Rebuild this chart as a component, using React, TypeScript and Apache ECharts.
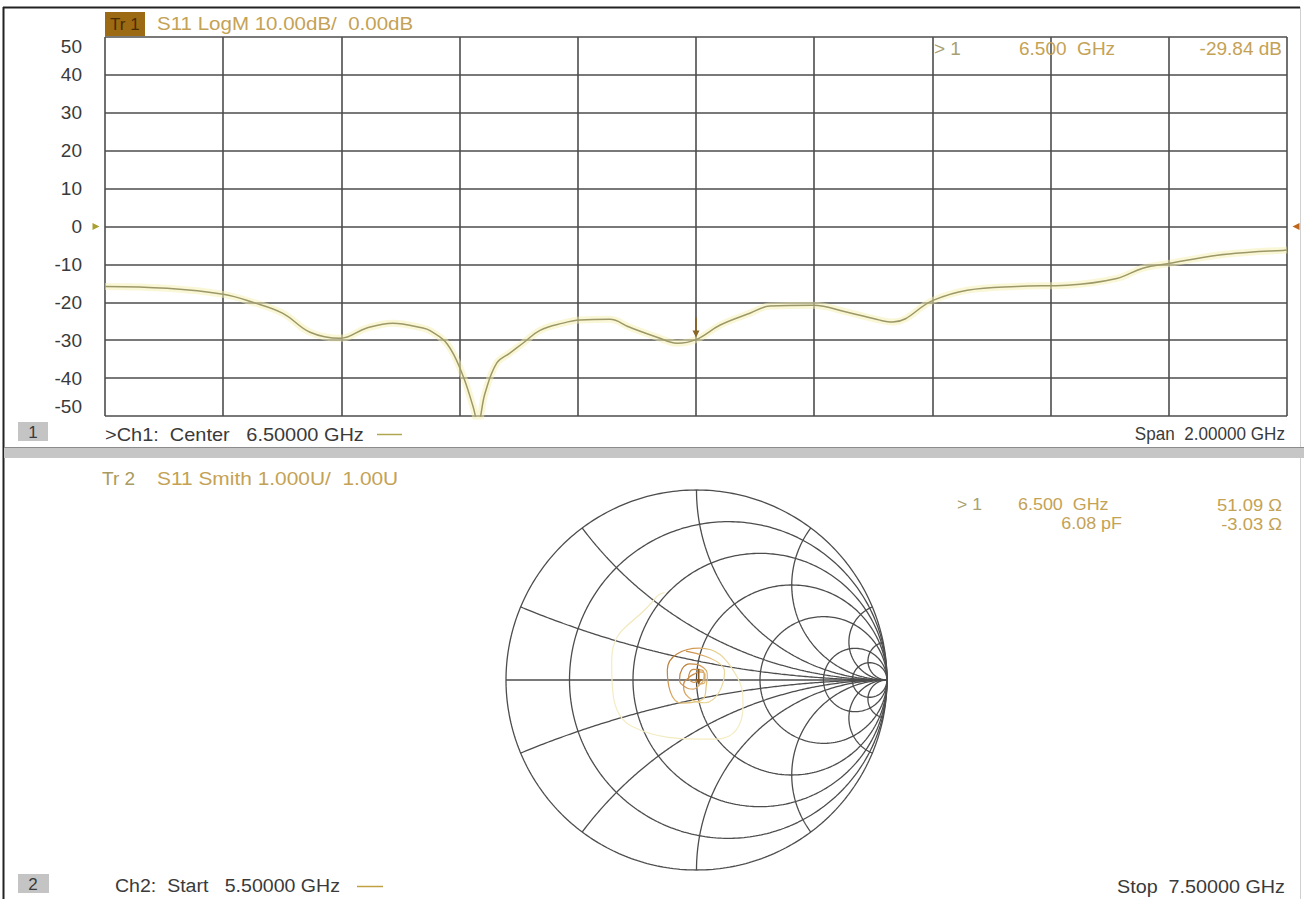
import React, { useEffect, useRef } from "react";
import * as echarts from "echarts";

// ---- Data ----
const FREQ_GHZ = [5.5, 5.605, 5.7, 5.75, 5.801, 5.847, 5.898, 5.943, 5.987, 6.038, 6.05, 6.079, 6.104, 6.123, 6.131, 6.143, 6.163, 6.185, 6.207, 6.236, 6.275, 6.304, 6.354, 6.388, 6.434, 6.468, 6.5, 6.541, 6.591, 6.625, 6.698, 6.756, 6.811, 6.833, 6.901, 6.959, 7.043, 7.128, 7.212, 7.256, 7.302, 7.382, 7.437, 7.493, 7.5];
const S11_DB = [-15.8, -16.3, -17.9, -20.0, -22.9, -27.9, -29.5, -26.8, -25.5, -26.8, -27.5, -31, -38.7, -47.6, -52, -44, -36, -33.4, -30.8, -27.4, -25.5, -24.7, -24.5, -26.6, -29.2, -30.8, -29.84, -26, -22.9, -21, -20.8, -22.6, -24.7, -25.2, -19.5, -16.8, -15.8, -15.5, -13.7, -11, -9.7, -7.6, -6.8, -6.3, -6.2];
// estimated reflection phase (degrees) for the Smith trace
const S11_PHASE = [110, 16, -70, -115, -161, 158, 112, 71, 32, -14, -25, -51, -74, -91, -98, -109, -127, -147, -166, 168, 133, 106, 61, 31, -11, -41, -70, -107, -152, 178, 112, 60, 10, -10, -71, -123, 161, 85, 9, -30, -72, -144, 167, 116, 110];

const Y_TICKS_DB = [-50, -40, -30, -20, -10, 0, 10, 20, 30, 40, 50];
const MARKER_FREQ = 6.5;
const MARKER_DB = -29.84;
const MARKER_Z_OHM = [51.09, -3.03];
const Z0 = 50;

const SMITH_R = [0, 0.2, 0.5, 1, 2, 5, 10];
const SMITH_X = [0.2, 0.5, 1, 2, 5, 10];

const FONT = "'Liberation Sans', Arial, sans-serif";
const GOLD = "#c4a255";
const DARK = "#3a3a3a";
const GRID = "#4d4d4d";
const FS = 19;

function gamma(r: number, x: number): [number, number] {
  const den = (r + 1) * (r + 1) + x * x;
  return [(r * r - 1 + x * x) / den, (2 * x) / den];
}

function rCircle(r: number): number[][] {
  const pts: number[][] = [[1, 0]];
  const n = 360;
  for (let i = 1; i < n; i++) {
    const phi = -Math.PI / 2 + (Math.PI * i) / n;
    pts.push(gamma(r, Math.tan(phi)));
  }
  pts.push([1, 0]);
  return pts;
}

function xArc(x: number): number[][] {
  const pts: number[][] = [];
  const n = 200;
  for (let i = 0; i < n; i++) {
    const phi = (Math.PI / 2) * (i / n);
    pts.push(gamma(Math.tan(phi), x));
  }
  pts.push([1, 0]);
  return pts;
}

export default function App() {
  const ref = useRef<HTMLDivElement>(null);
  useEffect(() => {
    if (!ref.current) return;
    const chart = echarts.init(ref.current, undefined, { renderer: "svg" });

    const logmData = FREQ_GHZ.map((f, i) => [f, S11_DB[i]]);
    const smithData = S11_DB.map((db, i) => {
      const m = Math.pow(10, db / 20);
      const a = (S11_PHASE[i] * Math.PI) / 180;
      return [m * Math.cos(a), m * Math.sin(a)];
    });
    const zm = [MARKER_Z_OHM[0] / Z0, MARKER_Z_OHM[1] / Z0];
    const markerGamma = gamma(zm[0], zm[1]);

    const gridSeries: any[] = [];
    SMITH_R.forEach((r) => {
      gridSeries.push({
        type: "line", xAxisIndex: 2, yAxisIndex: 1, data: rCircle(r),
        showSymbol: false, silent: true, clip: false,
        lineStyle: { color: GRID, width: 1.3 },
      });
    });
    SMITH_X.forEach((x) => {
      [x, -x].forEach((xx) => {
        gridSeries.push({
          type: "line", xAxisIndex: 2, yAxisIndex: 1, data: xArc(xx),
          showSymbol: false, silent: true, clip: false,
          lineStyle: { color: GRID, width: 1.3 },
        });
      });
    });
    gridSeries.push({
      type: "line", xAxisIndex: 2, yAxisIndex: 1, data: [[-1, 0], [1, 0]],
      showSymbol: false, silent: true, clip: false,
      lineStyle: { color: GRID, width: 1.3 },
    });

    const txt = (x: number, y: number, text: string, fill: string, align = "left", sx = 1, size = FS) => ({
      type: "text", x, y, scaleX: sx, silent: true, z: 100,
      style: { text, fill, font: `${size}px ${FONT}`, textAlign: align, textVerticalAlign: "middle" },
    });

    const option: any = {
      animation: false,
      backgroundColor: "#ffffff",
      grid: [
        { left: 105, top: 37, width: 1182, height: 379 },
        { left: 506, top: 490, width: 381, height: 380 },
      ],
      xAxis: [
        { gridIndex: 0, type: "value", min: 5.5, max: 7.5, show: false },
        {
          gridIndex: 0, type: "value", min: 0, max: 10, interval: 1,
          axisLine: { show: false }, axisTick: { show: false }, axisLabel: { show: false },
          splitLine: { show: true, lineStyle: { color: GRID, width: 1.6 } },
        },
        { gridIndex: 1, type: "value", min: -1, max: 1, show: false },
      ],
      yAxis: [
        {
          gridIndex: 0, type: "value", min: Y_TICKS_DB[0], max: Y_TICKS_DB[Y_TICKS_DB.length - 1], interval: 10,
          axisLine: { show: false }, axisTick: { show: false },
          axisLabel: {
            color: DARK, fontSize: FS, fontFamily: FONT, margin: 23,
            verticalAlignMaxLabel: "top", verticalAlignMinLabel: "bottom",
          },
          splitLine: { show: true, lineStyle: { color: GRID, width: 1.6 } },
        },
        { gridIndex: 1, type: "value", min: -1, max: 1, show: false },
      ],
      series: [
        {
          type: "line", xAxisIndex: 0, yAxisIndex: 0, data: logmData, smooth: 0.4,
          showSymbol: false, silent: true,
          lineStyle: { color: "rgba(246,240,175,0.5)", width: 7 },
        },
        {
          type: "line", xAxisIndex: 0, yAxisIndex: 0, data: logmData, smooth: 0.4,
          showSymbol: false, silent: true,
          lineStyle: { color: "#9d9868", width: 1.5 },
          markPoint: {
            silent: true,
            label: { show: false },
            data: [
              { coord: [MARKER_FREQ, MARKER_DB], symbol: "path://M3,0 L5,0 L5,11 L8,11 L4,17 L0,11 L3,11 Z", symbolSize: [7, 20], symbolOffset: [0, -12], itemStyle: { color: "#8a6525" } },
              { coord: [5.5, 0], symbol: "triangle", symbolRotate: -90, symbolSize: [7, 7], symbolOffset: [-9, 0], itemStyle: { color: "#a8a030" } },
              { coord: [7.5, 0], symbol: "triangle", symbolRotate: 90, symbolSize: [7, 7], symbolOffset: [9, 0], itemStyle: { color: "#c0661a" } },
            ],
          },
        },
        ...gridSeries,
        {
          type: "line", xAxisIndex: 2, yAxisIndex: 1, data: smithData, smooth: 0.5,
          showSymbol: false, silent: true, clip: false,
          lineStyle: {
            width: 1.2,
            color: {
              type: "radial", x: 0.5, y: 0.5, r: 0.5,
              colorStops: [
                { offset: 0, color: "#b0702a" },
                { offset: 0.35, color: "#d39a55" },
                { offset: 0.6, color: "#e6cf8a" },
                { offset: 1, color: "#f3ecc2" },
              ],
            },
          },
          markPoint: {
            silent: true, label: { show: false },
            data: [
              { coord: markerGamma, symbol: "path://M3,0 L5,0 L5,11 L8,11 L4,17 L0,11 L3,11 Z", symbolSize: [6, 16], symbolOffset: [0, -9], itemStyle: { color: "#8a5a20" } },
            ],
          },
        },
      ],
      graphic: [
        // outer frame
        { type: "line", silent: true, shape: { x1: 3.5, y1: 7, x2: 3.5, y2: 899 }, style: { stroke: "#222", lineWidth: 2 } },
        { type: "line", silent: true, shape: { x1: 3, y1: 7.5, x2: 1300, y2: 7.5 }, style: { stroke: "#222", lineWidth: 2 } },
        { type: "line", silent: true, shape: { x1: 1300.5, y1: 7, x2: 1300.5, y2: 899 }, style: { stroke: "#d0d0d0", lineWidth: 1 } },
        // separator
        { type: "rect", silent: true, shape: { x: 4, y: 447, width: 1300, height: 11 }, style: { fill: "#c6c6c6" } },
        { type: "line", silent: true, shape: { x1: 4, y1: 447.5, x2: 1304, y2: 447.5 }, style: { stroke: "#8c8c8c", lineWidth: 1 } },
        // Tr 1 header
        { type: "rect", silent: true, shape: { x: 105, y: 12, width: 40, height: 24 }, style: { fill: "#9c6a12" } },
        txt(110, 24, "Tr 1", "#4a2c00", "left", 1, 17),
        txt(157, 23, "S11 LogM 10.00dB/  0.00dB", GOLD, "left", 1.08),
        // marker readout top
        txt(934, 48, "> 1", "#a8a070"),
        txt(1019, 48, "6.500  GHz", GOLD),
        txt(1282, 48, "-29.84 dB", GOLD, "right"),
        // channel 1 footer
        { type: "rect", silent: true, shape: { x: 18, y: 422, width: 30, height: 19 }, style: { fill: "#c4c4c4" } },
        txt(33, 432, "1", DARK, "center", 1, 17),
        txt(105, 434, ">Ch1:  Center   6.50000 GHz", DARK, "left", 1.05),
        { type: "line", silent: true, shape: { x1: 377, y1: 434.5, x2: 402, y2: 434.5 }, style: { stroke: "#b0a850", lineWidth: 1.5 } },
        txt(1285, 434, "Span  2.00000 GHz", DARK, "right", 0.95, 18),
        // Tr 2 header
        txt(102, 478, "Tr 2", "#a89a60"),
        txt(157, 478, "S11 Smith 1.000U/  1.00U", GOLD, "left", 1.1),
        // marker readout bottom
        txt(957, 505, "> 1", "#a8a070", "left", 1.1, 16),
        txt(1018, 505, "6.500  GHz", GOLD, "left", 1.12, 16),
        txt(1282, 505, "51.09 \u03a9", GOLD, "right", 1.15, 16),
        txt(1122, 524, "6.08 pF", GOLD, "right", 1.12, 16),
        txt(1282, 524, "-3.03 \u03a9", GOLD, "right", 1.15, 16),
        // channel 2 footer
        { type: "rect", silent: true, shape: { x: 18, y: 874, width: 31, height: 19 }, style: { fill: "#c4c4c4" } },
        txt(33, 884, "2", DARK, "center", 1, 17),
        txt(115, 886, "Ch2:  Start   5.50000 GHz", DARK, "left", 1.03),
        { type: "line", silent: true, shape: { x1: 357, y1: 886.5, x2: 383, y2: 886.5 }, style: { stroke: "#c0a040", lineWidth: 1.5 } },
        txt(1285, 886, "Stop  7.50000 GHz", DARK, "right", 1.04),
      ],
    };
    chart.setOption(option);
    return () => chart.dispose();
  }, []);

  return (
    <div
      ref={ref}
      style={{ position: "fixed", left: 0, top: 0, width: 1304, height: 899, background: "#fff" }}
    />
  );
}
